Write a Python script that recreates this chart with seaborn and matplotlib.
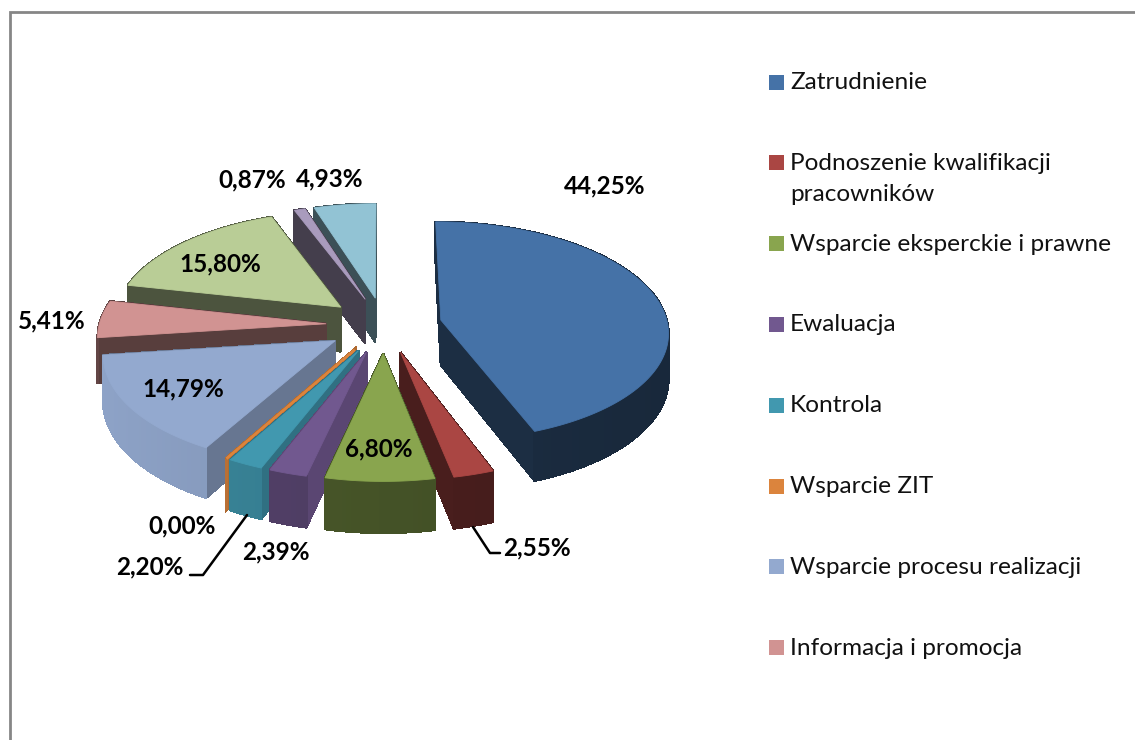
import numpy as np
import matplotlib
matplotlib.use("Agg")
import matplotlib.pyplot as plt
import seaborn as sns
from matplotlib.patches import Rectangle

# values, clockwise from 12 o'clock
shares = [44.25, 2.55, 6.80, 2.39, 2.20, 0.00, 14.79, 5.41, 15.80, 0.87, 4.93]
slice_colors = ["#4572A7", "#AA4643", "#89A54E", "#71588F", "#4198AF", "#DB843D",
                "#93A9CF", "#D19392", "#B9CD96", "#A99BBD", "#92C3D4"]
legend_names = ["Zatrudnienie", "Podnoszenie kwalifikacji\npracowników",
                "Wsparcie eksperckie i prawne", "Ewaluacja", "Kontrola",
                "Wsparcie ZIT", "Wsparcie procesu realizacji", "Informacja i promocja"]

# wall shading per slice
rim_shade = [0.40, 0.43, 0.50, 0.68, 0.80, 0.80, 0.86, 0.42, 0.41, 0.40, 0.41]
side_shade = [0.40, 0.43, 0.50, 0.80, 0.74, 0.80, 0.70, 0.42, 0.41, 0.40, 0.41]

# where the percent labels sit, in pixels
label_pos = [(605, 186), (537, 548), (379, 449), (276, 552), (150, 567), (182, 526),
             (183, 389), (52, 321), (220, 264), (252, 180), (330, 179)]

CX, CY = 384, 325
RADIUS = 227
EXPLODE = 58
SQUASH = 0.48
PERSP = 0.10
HEIGHT = 45


def project(x, y, z=0.0):
    k = 1.0 / (1.0 + PERSP * y / RADIUS)
    return CX + x * k, CY - y * SQUASH * k + z * k


def shade(color, f):
    return tuple(c * f for c in color)


def draw_slice(ax, start, stop, color, rim_f, side_f):
    mid = (start + stop) / 2
    ox, oy = EXPLODE * np.sin(mid), EXPLODE * np.cos(mid)
    theta = np.linspace(start, stop, max(2, int((stop - start) * 60)))
    xs = ox + RADIUS * np.sin(theta)
    ys = oy + RADIUS * np.cos(theta)
    lw = 2.0 if stop == start else 1.0

    faces = []
    # the two flat cut faces
    for ex, ey in [(xs[0], ys[0]), (xs[-1], ys[-1])]:
        faces.append(((oy + ey) / 2, [(ox, oy), (ex, ey)], shade(color, side_f)))
    # outer rim in small strips, slightly lighter to the left
    for i in range(len(xs) - 1):
        fade = rim_f * (1.0 + 0.10 * (-xs[i]) / RADIUS)
        faces.append(((ys[i] + ys[i + 1]) / 2, [(xs[i], ys[i]), (xs[i + 1], ys[i + 1])],
                      shade(color, min(fade, 1.0))))
    for _, (a, b), c in sorted(faces, key=lambda f: -f[0]):
        top = [project(*a), project(*b)]
        low = [project(*b, HEIGHT), project(*a, HEIGHT)]
        px, py = zip(*(top + low))
        ax.fill(px, py, color=c, lw=lw, antialiased=False)

    px, py = zip(*([project(ox, oy)] + [project(x, y) for x, y in zip(xs, ys)]))
    ax.fill(px, py, color=color, lw=0.6 if stop != start else lw)


sns.set_theme(style="white")
plt.rcParams['font.family'] = ['Lato', 'DejaVu Sans']

palette = sns.color_palette(slice_colors)
fig = plt.figure(figsize=(11.35, 7.4), dpi=100)
ax = fig.add_axes([0, 0, 1, 1])
ax.set_xlim(0, 1135)
ax.set_ylim(740, 0)
ax.axis("off")

# chart frame
ax.plot([9.5, 9.5, 1135], [740, 12, 12], color="#868686", lw=2.0, solid_joinstyle="miter")

edges = np.cumsum([0] + shares) / sum(shares) * 2 * np.pi
order = sorted(range(len(shares)), key=lambda i: -np.cos((edges[i] + edges[i + 1]) / 2))
for i in order:
    draw_slice(ax, edges[i], edges[i + 1], palette[i], rim_shade[i], side_shade[i])

# leader lines for the two labels pulled away
ax.plot([473, 490, 500], [527, 553, 553], color="black", lw=1.8)
ax.plot([247, 203, 190], [515, 575, 575], color="black", lw=1.8)

for v, (x, y) in zip(shares, label_pos):
    ax.text(x, y, f"{v:.2f}%".replace(".", ","), ha="center", va="center",
            fontsize=17.5, fontweight="bold", color="black")

# legend, rows evenly spaced whatever the label height
for i, name in enumerate(legend_names):
    y = 82 + i * 80.8
    ax.add_patch(Rectangle((769, y - 7.5), 15, 15, color=palette[i], lw=0))
    ax.text(790, y - 10, name, ha="left", va="top", fontsize=17.6, color="#111111",
            linespacing=1.62)

fig.savefig("out.png", dpi=100)
